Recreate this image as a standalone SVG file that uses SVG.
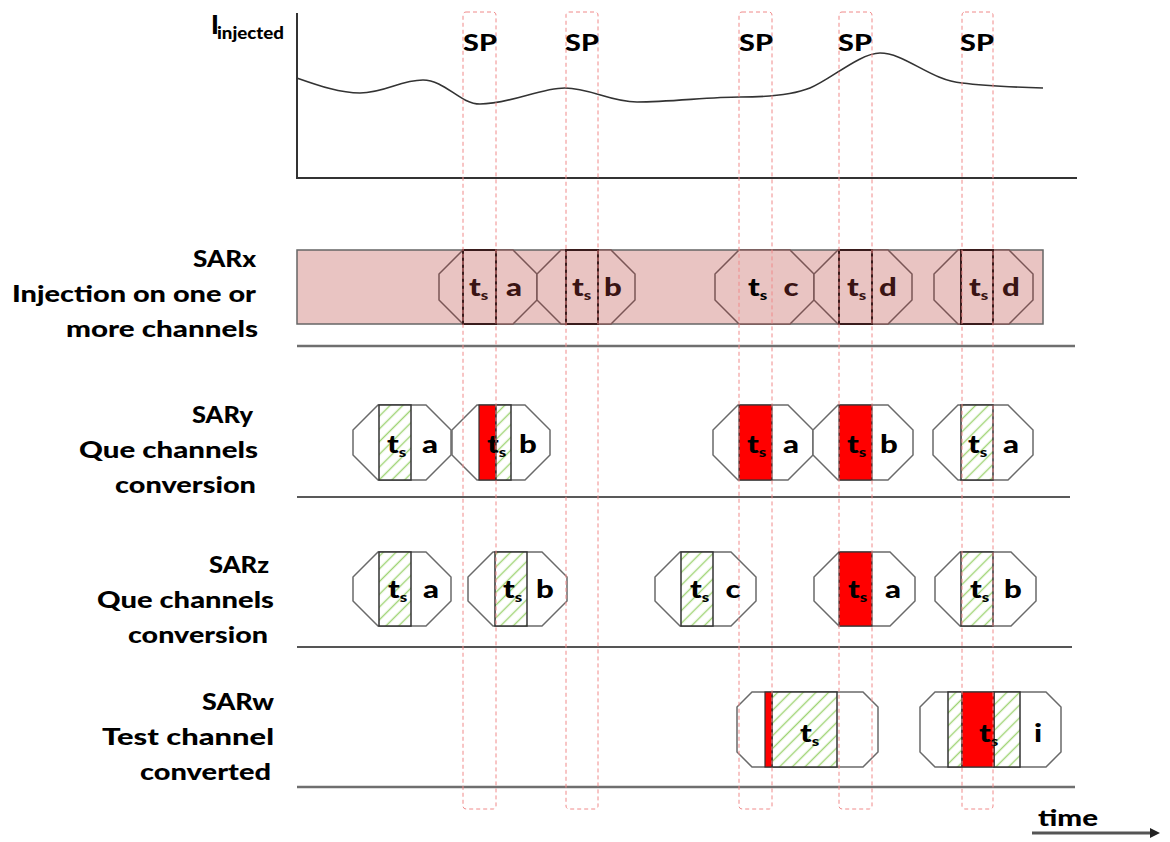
<svg xmlns="http://www.w3.org/2000/svg" width="1170" height="842" viewBox="0 0 1170 842">
<defs>
<pattern id="hatch" patternUnits="userSpaceOnUse" width="9" height="9" patternTransform="rotate(45)">
<rect width="9" height="9" fill="#fff"/>
<line x1="4.5" y1="0" x2="4.5" y2="9" stroke="#9fd474" stroke-width="1.4"/>
</pattern>
<marker id="arr" markerWidth="10" markerHeight="10" refX="4" refY="5" orient="auto" markerUnits="userSpaceOnUse">
<path d="M0,0 L10,5 L0,10 Z" fill="#222"/>
</marker>
<style>
text{font-family:Lato,"Liberation Sans",sans-serif;font-weight:900;fill:#000}
.lbl{font-size:23px}
.g{font-size:24px}
.sub{font-size:13px}
.brn{fill:#3a1414}
.oct{fill:#fff;stroke:#6a6a6a;stroke-width:1.5}
.octx{fill:#e9c4c2;stroke:#7a5656;stroke-width:1.5}
.barx{fill:none;stroke:#3a1c1c;stroke-width:2}
.hat{fill:url(#hatch);stroke:#333;stroke-width:1.5}
.red{fill:#ff0000;stroke:#333;stroke-width:1.2}
.sp{fill:none;stroke:#f08a8a;stroke-width:1;stroke-dasharray:4 3}
.axis{stroke:#333;stroke-width:2;fill:none}
.sep{stroke:#6f6f6f;stroke-width:2.5}
</style>
</defs>
<rect width="1170" height="842" fill="#fff"/>

<g id="labels">
<text x="211" y="34" style="font-size:26px">I</text>
<text x="217" y="39" style="font-size:17px" textLength="67" lengthAdjust="spacingAndGlyphs">injected</text>
<text class="lbl" x="193" y="267" textLength="63" lengthAdjust="spacingAndGlyphs">SARx</text>
<text class="lbl" x="12" y="302" textLength="244" lengthAdjust="spacingAndGlyphs">Injection on one or</text>
<text class="lbl" x="66" y="337" textLength="192" lengthAdjust="spacingAndGlyphs">more channels</text>
<text class="lbl" x="192" y="423" textLength="61" lengthAdjust="spacingAndGlyphs">SARy</text>
<text class="lbl" x="79" y="458" textLength="179" lengthAdjust="spacingAndGlyphs">Que channels</text>
<text class="lbl" x="115" y="493" textLength="141" lengthAdjust="spacingAndGlyphs">conversion</text>
<text class="lbl" x="209" y="573" textLength="60" lengthAdjust="spacingAndGlyphs">SARz</text>
<text class="lbl" x="97" y="608" textLength="177" lengthAdjust="spacingAndGlyphs">Que channels</text>
<text class="lbl" x="128" y="643" textLength="140" lengthAdjust="spacingAndGlyphs">conversion</text>
<text class="lbl" x="202" y="710" textLength="72" lengthAdjust="spacingAndGlyphs">SARw</text>
<text class="lbl" x="102" y="745" textLength="172" lengthAdjust="spacingAndGlyphs">Test channel</text>
<text class="lbl" x="140" y="780" textLength="131" lengthAdjust="spacingAndGlyphs">converted</text>
<text class="lbl" x="1038" y="826" style="font-size:22px" textLength="60" lengthAdjust="spacingAndGlyphs">time</text>
</g>

<g id="connectors">
<path class="axis" d="M297,13 L297,178 L1077,178"/>
<path d="M297,78 C320,86 340,93 360,93 C385,93 400,80 423,80 C445,80 460,104 480,104 C510,104 540,88 565,88 C590,88 610,102 637,102 C670,102 710,97 740,97 C760,97 790,96 810,88 C830,80 860,53 880,53 C905,53 930,80 962,83 C985,86 1010,87 1043,88" fill="none" stroke="#333" stroke-width="1.6"/>
<line class="sep" x1="297" y1="346" x2="1075" y2="346"/>
<line x1="297" y1="497" x2="1070" y2="497" stroke="#222" stroke-width="1.5"/>
<line class="sep" x1="297" y1="647" x2="1072" y2="647" style="stroke:#555;stroke-width:2"/>
<line class="sep" x1="297" y1="787" x2="1075" y2="787"/>
<line x1="1032" y1="833" x2="1154" y2="833" stroke="#555" stroke-width="3" marker-end="url(#arr)"/>
</g>

<g id="sarx">
<rect x="297" y="250" width="746" height="74" fill="#e9c4c2" stroke="#666" stroke-width="1.5"/>
<g id="sarx-1">
<polygon class="octx" points="463,250 513,250 537,274 537,300 513,324 463,324 439,300 439,274"/>
<rect class="barx" x="463" y="250" width="33" height="74"/>
<text class="g brn" transform="translate(469,296) scale(1.3,1)">t<tspan class="sub" dy="4">s</tspan></text>
<text class="g brn" text-anchor="middle" transform="translate(514,296) scale(1.3,1)">a</text>
</g>
<g id="sarx-2">
<polygon class="octx" points="561,250 611,250 635,274 635,300 611,324 561,324 537,300 537,274"/>
<rect class="barx" x="566" y="250" width="32" height="74"/>
<text class="g brn" transform="translate(572,296) scale(1.3,1)">t<tspan class="sub" dy="4">s</tspan></text>
<text class="g brn" text-anchor="middle" transform="translate(613,296) scale(1.3,1)">b</text>
</g>
<g id="sarx-3">
<polygon class="octx" points="739,250 790,250 814,274 814,300 790,324 739,324 715,300 715,274"/>
<text class="g" transform="translate(748,296) scale(1.3,1)">t<tspan class="sub" dy="4">s</tspan></text>
<text class="g brn" text-anchor="middle" transform="translate(791,296) scale(1.3,1)">c</text>
</g>
<g id="sarx-4">
<polygon class="octx" points="838,250 888,250 912,274 912,300 888,324 838,324 814,300 814,274"/>
<rect class="barx" x="839" y="250" width="33" height="74"/>
<text class="g brn" transform="translate(847,296) scale(1.3,1)">t<tspan class="sub" dy="4">s</tspan></text>
<text class="g brn" text-anchor="middle" transform="translate(888,296) scale(1.3,1)">d</text>
</g>
<g id="sarx-5">
<polygon class="octx" points="958,250 1009,250 1033,274 1033,300 1009,324 958,324 934,300 934,274"/>
<rect class="barx" x="961" y="250" width="32" height="74"/>
<text class="g brn" transform="translate(969,296) scale(1.3,1)">t<tspan class="sub" dy="4">s</tspan></text>
<text class="g brn" text-anchor="middle" transform="translate(1011,296) scale(1.3,1)">d</text>
</g>
</g>

<g id="sary">
<g id="sary-1">
<polygon class="oct" points="378,405 426,405 451,430 451,455 426,480 378,480 353,455 353,430"/>
<rect class="hat" x="379" y="405" width="32" height="75"/>
<text class="g" transform="translate(387,453) scale(1.3,1)">t<tspan class="sub" dy="4">s</tspan></text>
<text class="g" text-anchor="middle" transform="translate(430,453) scale(1.3,1)">a</text>
</g>
<g id="sary-2">
<polygon class="oct" points="477,405 525,405 550,430 550,455 525,480 477,480 452,455 452,430"/>
<rect class="red" x="479" y="405" width="17" height="75"/>
<rect class="hat" x="496" y="405" width="15" height="75"/>
<text class="g" transform="translate(487,453) scale(1.3,1)">t<tspan class="sub" dy="4">s</tspan></text>
<text class="g" text-anchor="middle" transform="translate(528,453) scale(1.3,1)">b</text>
</g>
<g id="sary-3">
<polygon class="oct" points="738,405 788,405 813,430 813,455 788,480 738,480 713,455 713,430"/>
<rect class="red" x="739" y="405" width="33" height="75"/>
<text class="g" transform="translate(747,453) scale(1.3,1)">t<tspan class="sub" dy="4">s</tspan></text>
<text class="g" text-anchor="middle" transform="translate(791,453) scale(1.3,1)">a</text>
</g>
<g id="sary-4">
<polygon class="oct" points="838,405 888,405 913,430 913,455 888,480 838,480 813,455 813,430"/>
<rect class="red" x="839" y="405" width="33" height="75"/>
<text class="g" transform="translate(847,453) scale(1.3,1)">t<tspan class="sub" dy="4">s</tspan></text>
<text class="g" text-anchor="middle" transform="translate(889,453) scale(1.3,1)">b</text>
</g>
<g id="sary-5">
<polygon class="oct" points="958,405 1008,405 1033,430 1033,455 1008,480 958,480 933,455 933,430"/>
<rect class="hat" x="961" y="405" width="32" height="75"/>
<text class="g" transform="translate(968,453) scale(1.3,1)">t<tspan class="sub" dy="4">s</tspan></text>
<text class="g" text-anchor="middle" transform="translate(1011,453) scale(1.3,1)">a</text>
</g>
</g>

<g id="sarz">
<g id="sarz-1">
<polygon class="oct" points="378,552 426,552 451,577 451,601 426,626 378,626 353,601 353,577"/>
<rect class="hat" x="379" y="552" width="32" height="74"/>
<text class="g" transform="translate(388,598) scale(1.3,1)">t<tspan class="sub" dy="4">s</tspan></text>
<text class="g" text-anchor="middle" transform="translate(431,598) scale(1.3,1)">a</text>
</g>
<g id="sarz-2">
<polygon class="oct" points="493,552 542,552 567,577 567,601 542,626 493,626 468,601 468,577"/>
<rect class="hat" x="495" y="552" width="32" height="74"/>
<text class="g" transform="translate(503,598) scale(1.3,1)">t<tspan class="sub" dy="4">s</tspan></text>
<text class="g" text-anchor="middle" transform="translate(545,598) scale(1.3,1)">b</text>
</g>
<g id="sarz-3">
<polygon class="oct" points="680,552 731,552 756,577 756,601 731,626 680,626 655,601 655,577"/>
<rect class="hat" x="681" y="552" width="32" height="74"/>
<text class="g" transform="translate(690,598) scale(1.3,1)">t<tspan class="sub" dy="4">s</tspan></text>
<text class="g" text-anchor="middle" transform="translate(733,598) scale(1.3,1)">c</text>
</g>
<g id="sarz-4">
<polygon class="oct" points="839,552 890,552 915,577 915,601 890,626 839,626 814,601 814,577"/>
<rect class="red" x="839" y="552" width="33" height="74"/>
<text class="g" transform="translate(848,598) scale(1.3,1)">t<tspan class="sub" dy="4">s</tspan></text>
<text class="g" text-anchor="middle" transform="translate(893,598) scale(1.3,1)">a</text>
</g>
<g id="sarz-5">
<polygon class="oct" points="960,552 1011,552 1036,577 1036,601 1011,626 960,626 935,601 935,577"/>
<rect class="hat" x="961" y="552" width="32" height="74"/>
<text class="g" transform="translate(970,598) scale(1.3,1)">t<tspan class="sub" dy="4">s</tspan></text>
<text class="g" text-anchor="middle" transform="translate(1013,598) scale(1.3,1)">b</text>
</g>
</g>

<g id="sarw">
<g id="sarw-1">
<polygon class="oct" points="752,692 863,692 878,707 878,752 863,767 752,767 737,752 737,707"/>
<rect class="hat" x="772" y="692" width="65" height="75"/>
<rect class="red" x="765" y="692" width="7" height="75"/>
<text class="g" transform="translate(800,742) scale(1.3,1)">t<tspan class="sub" dy="4">s</tspan></text>
</g>
<g id="sarw-2">
<polygon class="oct" points="935,692 1046,692 1061,707 1061,752 1046,767 935,767 920,752 920,707"/>
<rect class="hat" x="948" y="692" width="14" height="75"/>
<rect class="hat" x="994" y="692" width="26" height="75"/>
<rect class="red" x="962" y="692" width="32" height="75"/>
<text class="g" transform="translate(979,742) scale(1.3,1)">t<tspan class="sub" dy="4">s</tspan></text>
<text class="g" text-anchor="middle" transform="translate(1038,742) scale(1.3,1)">i</text>
</g>
</g>

<g id="sampling-points">
<g id="sp1"><rect class="sp" x="463" y="12" width="33" height="797" rx="3"/><text x="480" y="51" text-anchor="middle" style="font-size:23px" transform="translate(480,0) scale(1.25,1) translate(-480,0)">SP</text></g>
<g id="sp2"><rect class="sp" x="566" y="12" width="32" height="797" rx="3"/><text x="582" y="51" text-anchor="middle" style="font-size:23px" transform="translate(582,0) scale(1.25,1) translate(-582,0)">SP</text></g>
<g id="sp3"><rect class="sp" x="739" y="12" width="33" height="797" rx="3"/><text x="756" y="51" text-anchor="middle" style="font-size:23px" transform="translate(756,0) scale(1.25,1) translate(-756,0)">SP</text></g>
<g id="sp4"><rect class="sp" x="839" y="12" width="33" height="797" rx="3"/><text x="855" y="51" text-anchor="middle" style="font-size:23px" transform="translate(855,0) scale(1.25,1) translate(-855,0)">SP</text></g>
<g id="sp5"><rect class="sp" x="962" y="12" width="31" height="797" rx="3"/><text x="977" y="51" text-anchor="middle" style="font-size:23px" transform="translate(977,0) scale(1.25,1) translate(-977,0)">SP</text></g>
</g>
</svg>
